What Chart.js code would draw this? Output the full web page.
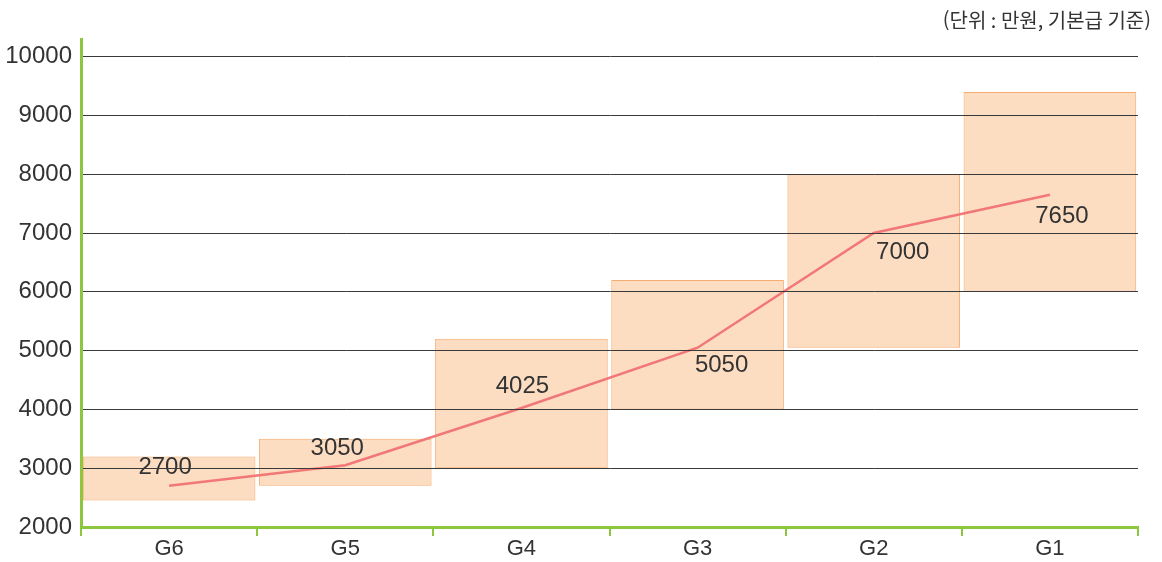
<!DOCTYPE html>
<html lang="ko">
<head>
<meta charset="utf-8">
<title>직급별 연봉 범위</title>
<script src="https://cdn.jsdelivr.net/npm/chart.js@4/dist/chart.umd.min.js"></script>
<style>
    html, body { margin: 0; padding: 0; background: #fff; }
    .wrap { position: relative; width: 1162px; height: 562px; }
</style>
</head>
<body>
<div class="wrap"><canvas id="payChart" width="1162" height="562"></canvas></div>
<script>
// Grades and salary bands (만원)
const grades = ['G6', 'G5', 'G4', 'G3', 'G2', 'G1'];
const bandMin = [2450, 2700, 3000, 4000, 5050, 6000];
const bandMax = [3200, 3500, 5200, 6200, 8000, 9400];
const midPay = [2700, 3050, 4025, 5050, 7000, 7650];
const yTicks = [2000, 3000, 4000, 5000, 6000, 7000, 8000, 9000, 10000];

// where each value label sits relative to its point
const labelShift = [[-4, -18], [-8, -17], [1, -22], [24, 18], [29, 19], [12, 22]];

const NUM_FONT = '"Liberation Sans", Arial, sans-serif';
const AXIS_GREEN = '#8dc63f';

const pointLabels = {
    id: 'pointLabels',
    afterDatasetsDraw(chart) {
        const { ctx } = chart;
        const meta = chart.getDatasetMeta(1);
        ctx.save();
        ctx.font = `24px ${NUM_FONT}`;
        ctx.fillStyle = '#333';
        ctx.textAlign = 'center';
        ctx.textBaseline = 'middle';
        meta.data.forEach((pt, i) => {
            const [dx, dy] = labelShift[i];
            ctx.fillText(String(midPay[i]), pt.x + dx, pt.y + dy);
        });
        ctx.restore();
    }
};

const unitNote = {
    id: 'unitNote',
    afterDraw(chart) {
        const { ctx } = chart;
        ctx.save();
        ctx.font = '20px "Noto Sans CJK KR", sans-serif';
        ctx.fillStyle = '#333';
        ctx.textAlign = 'right';
        ctx.textBaseline = 'middle';
        ctx.fillText('(단위 : 만원, 기본급 기준)', 1151, 20);
        ctx.restore();
    }
};

const ctx = document.getElementById('payChart').getContext('2d');
new Chart(ctx, {
    data: {
        labels: grades,
        datasets: [
            {
                type: 'bar',
                data: grades.map((g, i) => [bandMin[i], bandMax[i]]),
                backgroundColor: 'rgba(251, 210, 174, 0.75)',
                borderColor: '#f8ad70',
                borderWidth: 1,
                borderSkipped: false,
                barPercentage: 0.98,
                categoryPercentage: 1,
                order: 2
            },
            {
                type: 'line',
                data: midPay,
                borderColor: '#f27777',
                borderWidth: 2.5,
                pointRadius: 0,
                tension: 0,
                order: 1
            }
        ]
    },
    options: {
        responsive: false,
        animation: false,
        layout: { padding: { top: 39, right: 24, left: 0, bottom: 0 } },
        plugins: {
            legend: { display: false },
            tooltip: { enabled: false }
        },
        scales: {
            x: {
                offset: true,
                grid: {
                    offset: true,
                    drawOnChartArea: false,
                    drawTicks: true,
                    tickLength: 9,
                    color: AXIS_GREEN,
                    lineWidth: 2
                },
                border: { color: AXIS_GREEN, width: 3, z: 2 },
                ticks: {
                    color: '#333',
                    font: { family: NUM_FONT, size: 22 },
                    padding: 0
                },
                afterFit(scale) { scale.height = 35; }
            },
            y: {
                min: 2000,
                max: 10300,
                afterBuildTicks(scale) {
                    scale.ticks = yTicks.map(v => ({ value: v }));
                },
                grid: {
                    color: '#3a3a3a',
                    lineWidth: 1,
                    drawTicks: false,
                    z: 1
                },
                // grid is on layer 1, so the border has to come after it
                border: { color: AXIS_GREEN, width: 3, z: 2 },
                ticks: {
                    color: '#333',
                    font: { family: NUM_FONT, size: 24 },
                    padding: 9,
                    callback: v => String(v)
                },
                afterFit(scale) { scale.width = 81; }
            }
        }
    },
    plugins: [pointLabels, unitNote]
});
</script>
</body>
</html>
